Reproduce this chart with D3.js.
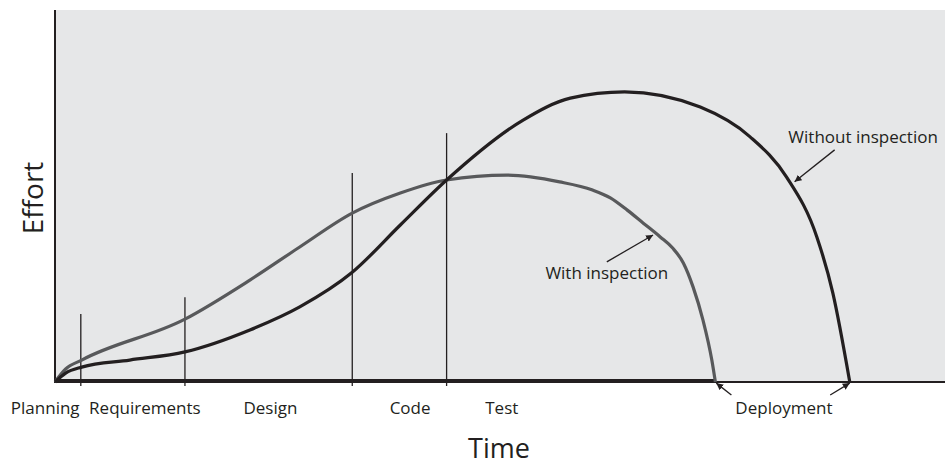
<!DOCTYPE html>
<html>
<head>
<meta charset="utf-8">
<script src="https://cdn.jsdelivr.net/npm/d3@7"></script>
<style>
  body { margin: 0; background: #fff; }
  text { font-family: "Open Sans", Lato, sans-serif; fill: #231f20; }
</style>
</head>
<body>
<div id="chart"></div>
<script>
// effort over time (time 0-100, effort 0-100)
const withTime    = [0, 1.2, 3.0, 14.6, 21.9, 27.5, 33.4, 38.8, 44.0, 50.8, 56.7, 60.4, 62.4, 64.3, 66.1, 68.0, 69.4, 70.6, 71.7, 72.8, 73.8, 74.2];
const withEffort  = [0, 3.5, 5.9, 16.9, 27.4, 36.3, 45.4, 50.8, 54.3, 55.6, 53.8, 51.6, 49.5, 46.2, 42.7, 39.0, 36.0, 32.0, 25.5, 16.7, 5.9, 0];
const withoutTime   = [0, 1.2, 3.0, 8.4, 14.6, 21.9, 27.5, 33.4, 38.8, 44.0, 52.6, 57.9, 64.0, 72.5, 78.1, 82.2, 85.6, 87.4, 89.3];
const withoutEffort = [0, 2.4, 4.0, 5.9, 8.1, 14.0, 20.2, 29.5, 42.2, 54.3, 70.4, 76.3, 78.0, 73.9, 65.9, 55.1, 39.0, 23.9, 0];

// phase boundary markers
const phaseLineTime = [2.9, 14.6, 33.4, 44.0];
const phaseLineTop  = [18.3, 22.8, 56.2, 66.9];

// phase labels along the time axis
const phaseNames = ["Planning", "Requirements", "Design", "Code", "Test"];
const phaseLabelTime = [-1.1, 10.1, 24.2, 39.9, 50.2];

const deployTime = [74.2, 89.3];

const width = 950, height = 465;
const margin = { left: 55, right: 5, top: 10, bottom: 83 };

const x = d3.scaleLinear().domain([0, 100]).range([margin.left, width - margin.right]);
const y = d3.scaleLinear().domain([0, 100]).range([height - margin.bottom, margin.top]);

const svg = d3.select("#chart").append("svg")
    .attr("width", width)
    .attr("height", height);

// arrow head
svg.append("defs").append("marker")
    .attr("id", "arrow")
    .attr("viewBox", "0 0 10 10")
    .attr("refX", 10).attr("refY", 5)
    .attr("markerWidth", 7).attr("markerHeight", 7)
    .attr("markerUnits", "userSpaceOnUse")
    .attr("orient", "auto")
    .append("path")
    .attr("d", "M0,0 L10,5 L0,10 Z")
    .attr("fill", "#231f20");

// plot background
svg.append("rect")
    .attr("x", x(0)).attr("y", y(100))
    .attr("width", x(100) - x(0))
    .attr("height", y(0) - y(100))
    .attr("fill", "#e6e7e8");

// phase lines
svg.append("g").selectAll("line")
    .data(phaseLineTime)
    .join("line")
    .attr("x1", d => x(d)).attr("x2", d => x(d))
    .attr("y1", (d, i) => y(phaseLineTop[i]))
    .attr("y2", y(0) + 4)
    .attr("stroke", "#231f20")
    .attr("stroke-width", 1.3);

const line = d3.line()
    .x(d => x(d[0]))
    .y(d => y(d[1]))
    .curve(d3.curveMonotoneX);

const withData = withTime.map((t, i) => [t, withEffort[i]]);
const withoutData = withoutTime.map((t, i) => [t, withoutEffort[i]]);

// axes
svg.append("line")
    .attr("x1", x(0)).attr("x2", x(100))
    .attr("y1", y(0)).attr("y2", y(0))
    .attr("stroke", "#231f20").attr("stroke-width", 2);
svg.append("line")
    .attr("x1", x(0)).attr("x2", x(deployTime[0]))
    .attr("y1", y(0) - 1).attr("y2", y(0) - 1)
    .attr("stroke", "#231f20").attr("stroke-width", 4);
svg.append("line")
    .attr("x1", x(0)).attr("x2", x(0))
    .attr("y1", y(100)).attr("y2", y(0) + 1)
    .attr("stroke", "#231f20").attr("stroke-width", 2);

svg.append("path")
    .datum(withData)
    .attr("d", line)
    .attr("fill", "none")
    .attr("stroke", "#58595b")
    .attr("stroke-width", 3.2);

svg.append("path")
    .datum(withoutData)
    .attr("d", line)
    .attr("fill", "none")
    .attr("stroke", "#231f20")
    .attr("stroke-width", 3.2);

// phase labels
svg.append("g").selectAll("text")
    .data(phaseNames)
    .join("text")
    .attr("x", (d, i) => x(phaseLabelTime[i]))
    .attr("y", y(0) + 32)
    .attr("text-anchor", "middle")
    .style("font-size", "17px")
    .text(d => d);

// axis titles
svg.append("text")
    .attr("transform", "translate(" + 43 + "," + 198 + ") rotate(-90)")
    .attr("text-anchor", "middle")
    .style("font-size", "28px")
    .text("Effort");

svg.append("text")
    .attr("x", 499).attr("y", 458)
    .attr("text-anchor", "middle")
    .style("font-size", "27px")
    .text("Time");

// annotations
function arrow(x1, y1, x2, y2) {
    svg.append("line")
        .attr("x1", x(x1)).attr("y1", y(y1))
        .attr("x2", x(x2)).attr("y2", y(y2))
        .attr("stroke", "#231f20")
        .attr("stroke-width", 1.3)
        .attr("marker-end", "url(#arrow)");
}

svg.append("text")
    .attr("x", x(55.1)).attr("y", y(29.3) + 6)
    .style("font-size", "17px")
    .text("With inspection");
arrow(62.0, 32.3, 67.2, 39.5);

svg.append("text")
    .attr("x", x(82.4)).attr("y", y(65.9) + 6)
    .style("font-size", "17px")
    .text("Without inspection");
arrow(87.6, 62.4, 83.1, 53.8);

svg.append("text")
    .attr("x", x(81.9)).attr("y", y(0) + 32)
    .attr("text-anchor", "middle")
    .style("font-size", "17px")
    .text("Deployment");
arrow(76.0, -3.5, deployTime[0] + 0.1, -0.3);
arrow(87.1, -3.5, deployTime[1], -0.3);
</script>
</body>
</html>
